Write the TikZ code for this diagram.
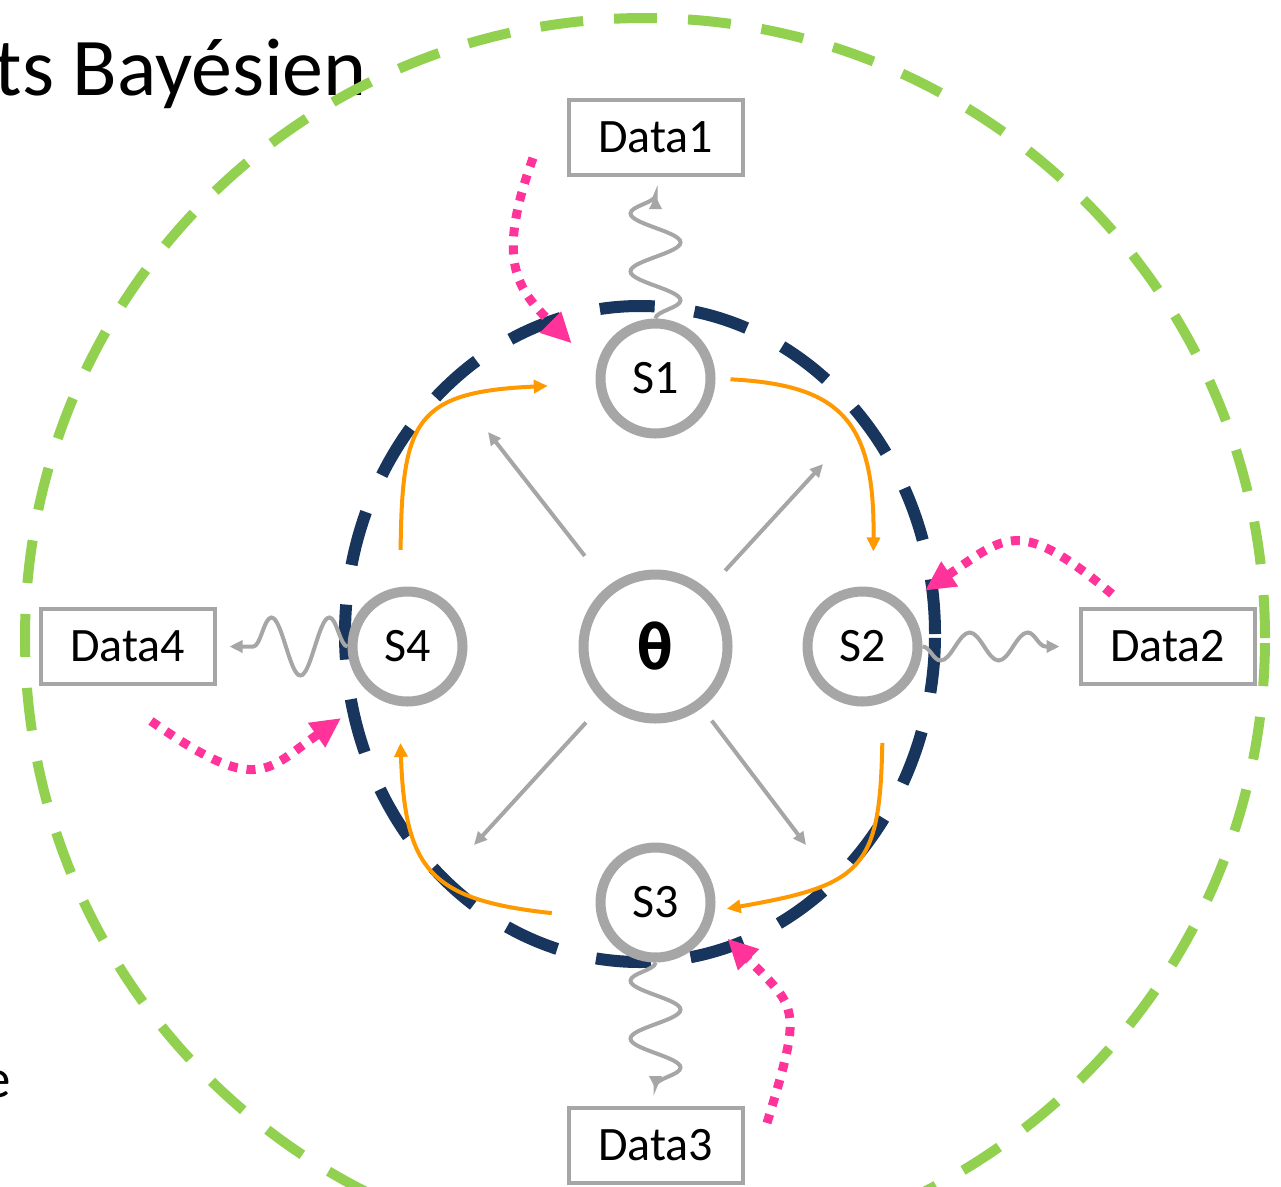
\documentclass[tikz,border=0pt]{standalone}
\usepackage{fontspec}
\setmainfont{Carlito}
\newfontfamily\thetafont{DejaVu Sans Mono}
\usetikzlibrary{positioning,arrows.meta,decorations.pathmorphing}

\definecolor{ring}{RGB}{166,166,166}
\definecolor{navy}{RGB}{24,54,93}
\definecolor{leaf}{RGB}{146,208,80}
\definecolor{amber}{RGB}{255,153,0}
\definecolor{hotpink}{RGB}{255,51,153}

\tikzstyle{S} = [circle,
			draw=ring, fill=white, line width=10pt,
			minimum size=110pt, inner sep=0pt,
			font=\fontsize{48}{58}\selectfont]
\tikzstyle{T} = [S, minimum size=144pt,
			font=\thetafont\bfseries\fontsize{62}{72}\selectfont]
\tikzstyle{D} = [rectangle,
			draw=ring, fill=white, line width=4pt,
			minimum width=174pt, minimum height=75pt,
			font=\fontsize{48}{58}\selectfont]
\tikzstyle{L} = [draw=amber, line width=4pt, -{Triangle[length=14pt,width=13pt]}]
\tikzstyle{G} = [draw=ring, line width=4pt, -{Triangle[length=13pt,width=12pt]}]
\tikzstyle{W} = [G, decorate,
			decoration={snake, segment length=58pt, amplitude=-25pt, post length=12pt}]
\tikzstyle{P} = [draw=hotpink, line width=9pt, dash pattern=on 9pt off 9pt,
			-{Triangle[length=30pt,width=28pt]}]

\begin{document}
\begin{tikzpicture}[x=1pt, y=1pt]

\useasboundingbox (0,0) rectangle (1281,-1186);

\node [anchor=base east, inner sep=0pt, font=\fontsize{82}{98}\selectfont]
(title) at (367,-95)
	{ts Bayésien};

\node [anchor=base east, inner sep=0pt, font=\fontsize{55}{66}\selectfont]
(cut) at (11,-1097)
	{e};

% the two dashed rings
\draw [leaf, line width=10pt, dash pattern=on 43pt off 31pt]
	(645,-638) circle [radius=620pt];
\draw [navy, line width=12pt, dash pattern=on 55pt off 40pt]
	(640,-634) ellipse [x radius=295pt, y radius=328pt];

\node [T]
(th) at (655.5,-646.5)
	{θ};

\node [S, above of =th, node distance =268pt]
(s1)
	{S1};

\node [S, right of =th, node distance =207pt]
(s2)
	{S2};

\node [S, below of =th, node distance =256pt]
(s3)
	{S3};

\node [S, left of =th, node distance =248pt]
(s4)
	{S4};

\node [D, above of =s1, node distance =241pt]
(d1)
	{Data1};

\node [D, right of =s2, node distance =305pt]
(d2)
	{Data2};

\node [D, below of =s3, node distance =243pt]
(d3)
	{Data3};

\node [D, left of =s4, node distance =280pt]
(d4)
	{Data4};

\coordinate (nw) at (488,-432);
\coordinate (ne) at (823,-464);
\coordinate (sw) at (474,-845);
\coordinate (se) at (806,-845);

\coordinate (o1) at (533,-158);
\coordinate (o2) at (1112,-594);
\coordinate (o3) at (767,-1123);
\coordinate (o4) at (151,-721);

\path[G, shorten <=38pt] (th) -- (nw);

\path[G, shorten <=26pt] (th) -- (ne);

\path[G, shorten <=26pt] (th) -- (sw);

\path[G, shorten <=16pt] (th) -- (se);

\path[L, shorten <=37pt, shorten >=48pt]
	(s4.97) .. controls (402,-420) and (415,-392) .. (s1.185);

\path[L, shorten <=15pt, shorten >=36pt]
	(s1.0) .. controls (840,-385) and (875,-420) .. (s2.80);

\path[L, shorten <=40pt, shorten >=12pt]
	(s2.-70) .. controls (880,-870) and (862,-885) .. (s3.-8);

\path[L, shorten <=46pt, shorten >=37pt]
	(s3.195) .. controls (430,-900) and (405,-870) .. (s4.262);

\path[W, shorten >=19pt] (s1) -- (d1);

\path[W, shorten >=19pt, decoration={amplitude=-14pt}] (s2) -- (d2);

\path[W, shorten >=17pt] (s3) -- (d3);

\path[W, shorten >=13pt, decoration={amplitude=-29pt}] (s4) -- (d4);

\path[P, shorten >=35pt] (o1) to [out=250, in=135, looseness=1.3] (s1.170);

\path[P, shorten >=24pt] (o2) to [out=140, in=34, looseness=1.5] (s2.45);

\path[P, shorten >=22pt] (o3) to [out=73, in=-45, looseness=1.5] (s3.-20);

\path[P, shorten >=39pt] (o4) to [out=-35, in=215, looseness=1.5] (s4.235);

\end{tikzpicture}
\end{document}
